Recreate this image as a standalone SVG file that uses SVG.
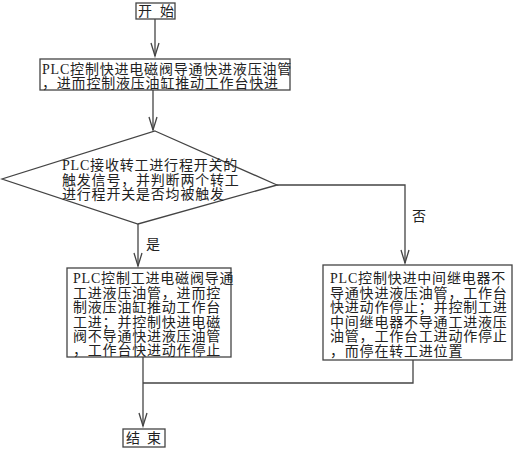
<svg xmlns="http://www.w3.org/2000/svg" width="515" height="450" viewBox="0 0 515 450">
<style>
.box{fill:#fff;stroke:#444;stroke-width:1.3}
.ln{fill:none;stroke:#444;stroke-width:1.3}
text{font-family:"Liberation Serif","Noto Sans CJK SC",serif;font-size:14px;letter-spacing:0.8px;fill:#222}
</style>
<defs>
<marker id="v" markerUnits="userSpaceOnUse" orient="auto" markerWidth="16" markerHeight="12" refX="0" refY="0" viewBox="-14 -6 16 12" overflow="visible">
<path d="M-13,-4 L0,0 L-13,4" fill="none" stroke="#444" stroke-width="1.3"/>
</marker>
</defs>
<g id="connectors">
<path class="ln" d="M155,19 L155,56" marker-end="url(#v)"/>
<path class="ln" d="M153,90 L153,130" marker-end="url(#v)"/>
<path class="ln" d="M277,185 L405,185 L405,263" marker-end="url(#v)"/>
<path class="ln" d="M138,224 L138,266" marker-end="url(#v)"/>
<path class="ln" d="M143,357 L143,426" marker-end="url(#v)"/>
<path class="ln" d="M413,360 L413,383 L143,383"/>
<text x="146" y="249">是</text>
<text x="412" y="221">否</text>
</g>
<g id="start">
<rect class="box" x="136" y="3" width="39" height="16"/>
<text x="138" y="16">开</text>
<text x="160" y="16">始</text>
</g>
<g id="fast">
<rect class="box" x="40" y="59" width="250" height="31"/>
<text x="42" y="74">PLC控制快进电磁阀导通快进液压油管</text>
<text x="42" y="88">，进而控制液压油缸推动工作台快进</text>
</g>
<g id="decision">
<polygon class="box" points="155,131 277,185 138,224 2,179"/>
<text x="62" y="170">PLC接收转工进行程开关的</text>
<text x="62" y="185">触发信号，并判断两个转工</text>
<text x="62" y="199">进行程开关是否均被触发</text>
</g>
<g id="yes-box">
<rect class="box" x="67" y="268" width="164" height="89"/>
<text x="73" y="283">PLC控制工进电磁阀导通</text>
<text x="73" y="298">工进液压油管，进而控</text>
<text x="73" y="312">制液压油缸推动工作台</text>
<text x="73" y="327">工进；并控制快进电磁</text>
<text x="73" y="341">阀不导通快进液压油管</text>
<text x="73" y="355">，工作台快进动作停止</text>
</g>
<g id="no-box">
<rect class="box" x="323" y="265" width="189" height="95"/>
<text x="330" y="283">PLC控制快进中间继电器不</text>
<text x="330" y="298">导通快进液压油管，工作台</text>
<text x="330" y="312">快进动作停止；并控制工进</text>
<text x="330" y="327">中间继电器不导通工进液压</text>
<text x="330" y="341">油管，工作台工进动作停止</text>
<text x="330" y="356">，而停在转工进位置</text>
</g>
<g id="end">
<rect class="box" x="123" y="429" width="42" height="18"/>
<text x="126" y="443">结</text>
<text x="147" y="443">束</text>
</g>
</svg>
